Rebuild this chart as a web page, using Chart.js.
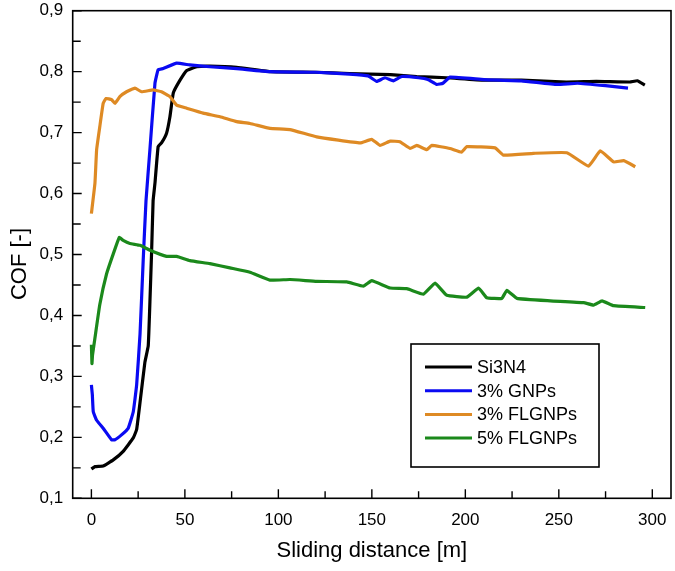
<!DOCTYPE html>
<html>
<head>
<meta charset="utf-8">
<script src="https://cdn.jsdelivr.net/npm/chart.js@4/dist/chart.umd.min.js"></script>
<style>
html,body{margin:0;padding:0;background:#fff;}
#wrap{width:675px;height:571px;position:relative;}
</style>
</head>
<body>
<div id="wrap"><canvas id="c" width="675" height="571"></canvas></div>
<script>
// ---- data ----
const seriesNames = ["Si3N4", "3% GNPs", "3% FLGNPs", "5% FLGNPs"];

const si3n4X = [0, 1.9, 6.3, 11.7, 17, 22.4, 24.2, 26, 28.6, 30.4, 31.3, 32.2, 33, 34, 35.7, 37.5, 40.2, 42, 43.8, 47.4, 51, 56.3, 63.4, 77.7, 95.5, 120, 138, 160, 174, 190, 210, 230, 254, 270, 288, 292, 296];
const si3n4Y = [0.148, 0.152, 0.153, 0.163, 0.177, 0.199, 0.213, 0.257, 0.323, 0.35, 0.422, 0.504, 0.588, 0.617, 0.677, 0.683, 0.699, 0.726, 0.765, 0.786, 0.802, 0.808, 0.809, 0.807, 0.8, 0.799, 0.797, 0.795, 0.792, 0.79, 0.786, 0.786, 0.783, 0.784, 0.783, 0.785, 0.778];

const gnpX = [0, 0.5, 1, 2.8, 6.3, 10.8, 12.6, 16.1, 19.7, 22.4, 24.2, 26, 27.7, 29.2, 31.3, 34, 35.7, 38.4, 45.6, 52.6, 63.4, 77.7, 95.5, 120, 138, 148, 152.6, 157, 161.5, 166, 175, 180, 184.7, 188, 191.8, 210, 230, 249, 260, 275, 287];
const gnpY = [0.286, 0.27, 0.242, 0.228, 0.215, 0.196, 0.196, 0.204, 0.215, 0.242, 0.286, 0.369, 0.49, 0.588, 0.672, 0.781, 0.803, 0.805, 0.814, 0.811, 0.808, 0.805, 0.8, 0.799, 0.796, 0.793, 0.784, 0.79, 0.785, 0.792, 0.79, 0.787, 0.779, 0.781, 0.791, 0.787, 0.785, 0.779, 0.781, 0.777, 0.773];

const fl3X = [0, 1.9, 2.8, 4.5, 6.3, 7.8, 10.8, 12.6, 15.2, 18.8, 23.3, 26.8, 33, 37.5, 42, 45.6, 51, 59.8, 68.8, 77.7, 84.8, 95.5, 106.2, 120.5, 143.7, 149.9, 154.4, 159.8, 165, 170.5, 174, 179.4, 182, 191.8, 198, 200.8, 215.9, 220.4, 236.5, 254.3, 265.9, 272.2, 279.3, 284.7, 290.9];
const fl3Y = [0.567, 0.617, 0.672, 0.71, 0.748, 0.756, 0.754, 0.748, 0.759, 0.767, 0.773, 0.767, 0.77, 0.767, 0.759, 0.745, 0.74, 0.732, 0.726, 0.718, 0.715, 0.707, 0.705, 0.693, 0.683, 0.689, 0.679, 0.686, 0.685, 0.674, 0.679, 0.672, 0.679, 0.674, 0.668, 0.677, 0.675, 0.663, 0.666, 0.667, 0.645, 0.67, 0.652, 0.654, 0.644];

const fl5X = [0, 0.3, 0.6, 1.9, 4.5, 8.1, 11.7, 14.9, 17, 20.6, 26, 31.3, 40.2, 45.6, 52.7, 63.4, 74.1, 84.8, 95.5, 106.2, 120.5, 136.6, 145.5, 149.9, 159.8, 168.7, 177.6, 183.8, 190.1, 200.8, 207.1, 211.5, 219.5, 222.2, 227.6, 245.4, 263.3, 268.6, 273.1, 279.3, 296.2];
const fl5Y = [0.352, 0.321, 0.335, 0.363, 0.418, 0.468, 0.501, 0.528, 0.523, 0.518, 0.515, 0.507, 0.497, 0.497, 0.49, 0.485, 0.478, 0.471, 0.458, 0.459, 0.456, 0.455, 0.448, 0.457, 0.445, 0.444, 0.435, 0.453, 0.433, 0.43, 0.445, 0.429, 0.428, 0.441, 0.428, 0.424, 0.421, 0.417, 0.424, 0.416, 0.413];

const xTicks = [0, 50, 100, 150, 200, 250, 300];
const xMinorTicks = [25, 75, 125, 175, 225, 275];
const yTicks = [0.1, 0.2, 0.3, 0.4, 0.5, 0.6, 0.7, 0.8, 0.9];
const yMinorTicks = [0.15, 0.25, 0.35, 0.45, 0.55, 0.65, 0.75, 0.85];
const xTitle = 'Sliding distance [m]';
const yTitle = 'COF [-]';

const colors = ["#000000", "#0a0af2", "#de8a24", "#1b891b"];

function pts(xs, ys){ return xs.map((x,i)=>({x:x, y:ys[i]})); }

const FONT = 'Arial, "Liberation Sans", sans-serif';

const frameTicks = {
  id: 'frameTicks',
  afterDatasetsDraw(chart){
    const ctx = chart.ctx, a = chart.chartArea;
    const xs = chart.scales.x, ys = chart.scales.y;
    ctx.save();
    ctx.strokeStyle = '#000';
    ctx.lineWidth = 1.6;
    ctx.strokeRect(a.left, a.top, a.right - a.left, a.bottom - a.top);
    ctx.lineWidth = 1.4;
    ctx.beginPath();
    xTicks.forEach(v=>{ const p = xs.getPixelForValue(v); ctx.moveTo(p, a.bottom); ctx.lineTo(p, a.bottom - 9); });
    xMinorTicks.forEach(v=>{ const p = xs.getPixelForValue(v); ctx.moveTo(p, a.bottom); ctx.lineTo(p, a.bottom - 7); });
    yTicks.forEach(v=>{ const p = ys.getPixelForValue(v); ctx.moveTo(a.left, p); ctx.lineTo(a.left + 9, p); });
    yMinorTicks.forEach(v=>{ const p = ys.getPixelForValue(v); ctx.moveTo(a.left, p); ctx.lineTo(a.left + 8, p); });
    ctx.stroke();

    // legend box inside plot
    const bx = 411, by = 344, bw = 188, bh = 123;
    ctx.fillStyle = '#fff';
    ctx.fillRect(bx, by, bw, bh);
    ctx.lineWidth = 1.6;
    ctx.strokeRect(bx, by, bw, bh);
    ctx.font = '18px ' + FONT;
    ctx.textBaseline = 'middle';
    ctx.textAlign = 'left';
    chart.data.datasets.forEach((ds, i)=>{
      const yy = 367 + i * 23.7;
      ctx.strokeStyle = ds.borderColor;
      ctx.lineWidth = 3;
      ctx.beginPath(); ctx.moveTo(425, yy); ctx.lineTo(472, yy); ctx.stroke();
      ctx.fillStyle = '#000';
      ctx.fillText(ds.label, 477, yy + 1);
    });

    // y axis title
    ctx.translate(20, 264);
    ctx.rotate(-Math.PI / 2);
    ctx.font = '22px ' + FONT;
    ctx.textAlign = 'center';
    ctx.fillText(yTitle, 0, 0);
    ctx.restore();
  }
};

new Chart(document.getElementById('c'), {
  type: 'scatter',
  data: {
    datasets: [
      {label: seriesNames[0], data: pts(si3n4X, si3n4Y), borderColor: colors[0], order: 4},
      {label: seriesNames[1], data: pts(gnpX, gnpY), borderColor: colors[1], order: 3},
      {label: seriesNames[2], data: pts(fl3X, fl3Y), borderColor: colors[2], order: 2},
      {label: seriesNames[3], data: pts(fl5X, fl5Y), borderColor: colors[3], order: 1}
    ].map(d => Object.assign(d, {showLine: true, pointRadius: 0, borderWidth: 3.2, tension: 0.1, backgroundColor: d.borderColor}))
  },
  options: {
    responsive: false,
    animation: false,
    layout: {padding: {left: 0, right: 4, top: 10.7, bottom: 0}},
    plugins: {legend: {display: false}, tooltip: {enabled: false}},
    scales: {
      x: {
        type: 'linear', min: -10, max: 310,
        grid: {display: false, drawTicks: false}, border: {display: false},
        afterBuildTicks: s => { s.ticks = xTicks.map(v => ({value: v})); },
        afterFit: s => { s.height = 72.7; s.paddingLeft = 0; s.paddingRight = 0; },
        ticks: {color: '#000', font: {size: 17, family: FONT}, padding: 12, maxRotation: 0},
        title: {display: true, text: xTitle, color: '#000', font: {size: 22, family: FONT}, padding: {top: 0, bottom: 7}}
      },
      y: {
        type: 'linear', min: 0.1, max: 0.9,
        grid: {display: false, drawTicks: false}, border: {display: false},
        afterBuildTicks: s => { s.ticks = yTicks.map(v => ({value: v})); },
        afterFit: s => { s.width = 72.7; s.paddingTop = 0; s.paddingBottom = 0; },
        ticks: {color: '#000', font: {size: 17, family: FONT}, padding: 9.5, callback: v => v.toFixed(1).replace('.', ',')},
        title: {display: false}
      }
    }
  },
  plugins: [frameTicks]
});
</script>
</body>
</html>
